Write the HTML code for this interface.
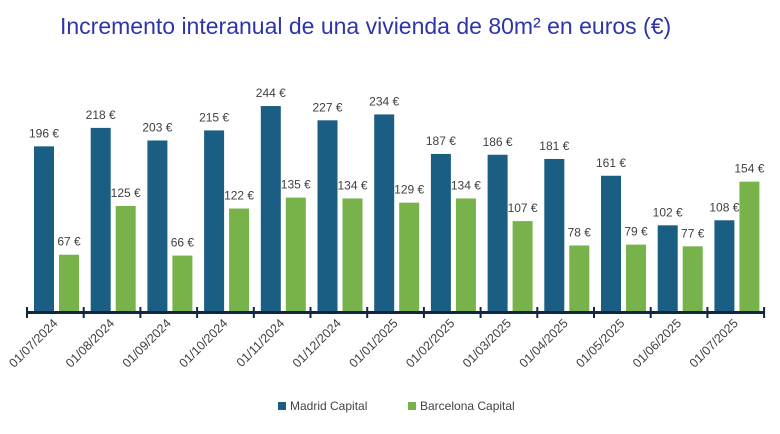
<!DOCTYPE html>
<html><head><meta charset="utf-8"><style>
body{margin:0;background:#fff;width:780px;height:429px;overflow:hidden;font-family:"Liberation Sans",sans-serif}
</style></head><body>
<svg id="chart" width="780" height="429" xmlns="http://www.w3.org/2000/svg">
<text x="60" y="34" font-size="23" fill="#2e35a8" font-family="Liberation Sans, sans-serif">Incremento interanual de una vivienda de 80m² en euros (€)</text>
<g id="bars"></g>
<g id="axis"></g>
<g>
<rect x="278" y="402" width="8" height="8" fill="#1b5e83"/>
<text x="290" y="410" font-size="12" fill="#444">Madrid Capital</text>
<rect x="408" y="402" width="8" height="8" fill="#78b24a"/>
<text x="420" y="410" font-size="12" fill="#444">Barcelona Capital</text>
</g>
</svg>
<script>
const categories=["01/07/2024","01/08/2024","01/09/2024","01/10/2024","01/11/2024","01/12/2024","01/01/2025","01/02/2025","01/03/2025","01/04/2025","01/05/2025","01/06/2025","01/07/2025"];
const madrid=[196,218,203,215,244,227,234,187,186,181,161,102,108];
const barcelona=[67,125,66,122,135,134,129,134,107,78,79,77,154];
const NS="http://www.w3.org/2000/svg";
const x0=27,gw=56.7,base=311,k=0.84;
const xs=i=>x0+i*gw;
const ys=v=>base-v*k;
const bars=document.getElementById('bars'),axis=document.getElementById('axis');
function mk(tag,attrs,parent){const e=document.createElementNS(NS,tag);for(const a in attrs)e.setAttribute(a,attrs[a]);parent.appendChild(e);return e;}
categories.forEach((c,i)=>{
  [[madrid,7,"#1b5e83","madrid"],[barcelona,32,"#78b24a","barcelona"]].forEach(([arr,off,col,nm])=>{
    const v=arr[i];
    const r=mk('rect',{x:xs(i)+off,y:ys(v),width:20,height:v*k,fill:col},bars);
    
    
    const t=mk('text',{x:xs(i)+off+10,y:ys(v)-9,'font-size':12,fill:'#404040','text-anchor':'middle'},bars);
    
    
    t.textContent=v+' €';
  });
  const tk=mk('line',{x1:xs(i),x2:xs(i),y1:307,y2:318,stroke:'#0f2740','stroke-width':2},axis);
  
  
  const cx=xs(i)+gw/2+3, cy=324;
  const lb=mk('text',{x:cx,y:cy,'font-size':12.5,fill:'#404040','text-anchor':'end',transform:`rotate(-45 ${cx} ${cy})`},axis);
  
  
  lb.textContent=c;
});
const tk=mk('line',{x1:xs(13),x2:xs(13),y1:307,y2:318,stroke:'#0f2740','stroke-width':2},axis);


const ax=mk('line',{x1:x0,x2:xs(13),y1:312.5,y2:312.5,stroke:'#0f2740','stroke-width':3},axis);


</script>
</body></html>
